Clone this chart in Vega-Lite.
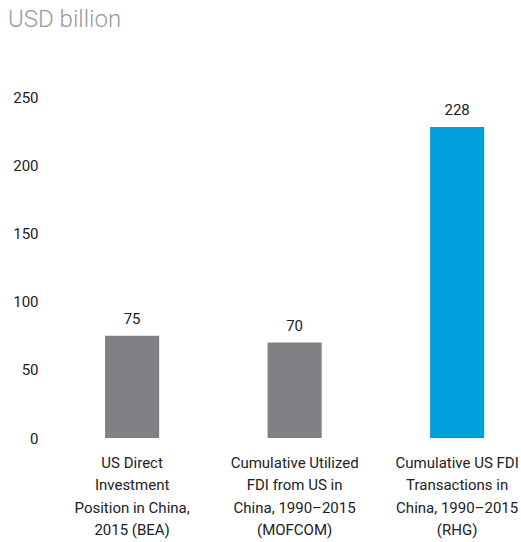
{
  "$schema": "https://vega.github.io/schema/vega-lite/v6.json",
  "autosize": {"type": "none"},
  "width": 476,
  "height": 341,
  "padding": {"left": 45, "top": 97, "right": 0, "bottom": 104},
  "background": "white",
  "config": {"view": {"stroke": null}, "font": "Roboto"},
  "title": {
    "text": "USD billion",
    "anchor": "start",
    "frame": "group",
    "fontSize": 24,
    "fontWeight": 300,
    "color": "#9a9a9a",
    "font": "Roboto",
    "baseline": "alphabetic",
    "offset": 39,
    "dx": -37
  },
  "data": {
    "values": [
      {"label": "US Direct|Investment|Position in China,|2015 (BEA)", "value": 75, "group": "other"},
      {"label": "Cumulative Utilized|FDI from US in|China, 1990–2015|(MOFCOM)", "value": 70, "group": "other"},
      {"label": "Cumulative US FDI|Transactions in|China, 1990–2015|(RHG)", "value": 228, "group": "rhg"}
    ]
  },
  "encoding": {
    "x": {
      "field": "label",
      "type": "nominal",
      "sort": null,
      "scale": {"paddingInner": 0.667, "paddingOuter": 0.298, "align": 0.62},
      "axis": {
        "title": null,
        "labelAngle": 0,
        "domain": false,
        "ticks": false,
        "tickSize": 0,
        "labelPadding": 17,
        "labelFontSize": 15,
        "labelColor": "#222222",
        "labelLineHeight": 22.5,
        "labelBaseline": "top",
        "labelLimit": 0,
        "labelExpr": "split(datum.value, '|')"
      }
    },
    "y": {
      "field": "value",
      "type": "quantitative",
      "scale": {"domain": [0, 250]},
      "axis": {
        "title": null,
        "values": [0, 50, 100, 150, 200, 250],
        "domain": false,
        "ticks": false,
        "tickSize": 0,
        "grid": false,
        "labelPadding": 7,
        "labelFontSize": 15,
        "labelColor": "#222222"
      }
    }
  },
  "layer": [
    {
      "mark": {"type": "bar"},
      "encoding": {
        "color": {
          "field": "group",
          "type": "nominal",
          "scale": {"domain": ["other", "rhg"], "range": ["#808085", "#009fdb"]},
          "legend": null
        }
      }
    },
    {
      "mark": {"type": "text", "baseline": "alphabetic", "dy": -12, "fontSize": 15, "color": "#222222"},
      "encoding": {"text": {"field": "value", "type": "quantitative"}}
    }
  ]
}
